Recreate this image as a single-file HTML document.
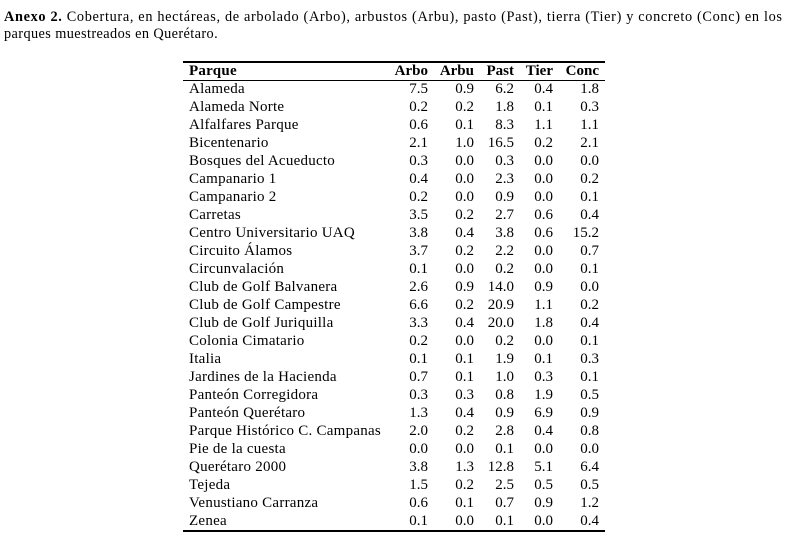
<!DOCTYPE html>
<html><head><meta charset="utf-8"><style>
body{margin:0;width:786px;height:540px;background:#fff;font-family:"Liberation Serif",serif;color:#000;position:relative;overflow:hidden}
.t{position:absolute;left:4px;font-size:14.3px;line-height:17px;white-space:nowrap}
.r{position:absolute;font-size:15px;line-height:18px;white-space:nowrap}
.n{text-align:right;width:40px}
.hr{position:absolute;left:183px;width:422px;background:#000}
b{font-weight:bold}
</style></head><body>
<div class="t" style="top:9px;letter-spacing:0.66px"><b>Anexo 2.</b> Cobertura, en hectáreas, de arbolado (Arbo), arbustos (Arbu), pasto (Past), tierra (Tier) y concreto (Conc) en los</div>
<div class="t" style="top:26px;letter-spacing:0.4px">parques muestreados en Querétaro.</div>
<div class="hr" style="top:61px;height:1.5px"></div>
<div class="hr" style="top:80px;height:1px"></div>
<div class="hr" style="top:530px;height:1.5px"></div>
<div id="tb"></div>
<script>
var rows=[["Alameda","7.5","0.9","6.2","0.4","1.8"],["Alameda Norte","0.2","0.2","1.8","0.1","0.3"],["Alfalfares Parque","0.6","0.1","8.3","1.1","1.1"],["Bicentenario","2.1","1.0","16.5","0.2","2.1"],["Bosques del Acueducto","0.3","0.0","0.3","0.0","0.0"],["Campanario 1","0.4","0.0","2.3","0.0","0.2"],["Campanario 2","0.2","0.0","0.9","0.0","0.1"],["Carretas","3.5","0.2","2.7","0.6","0.4"],["Centro Universitario UAQ","3.8","0.4","3.8","0.6","15.2"],["Circuito Álamos","3.7","0.2","2.2","0.0","0.7"],["Circunvalación","0.1","0.0","0.2","0.0","0.1"],["Club de Golf Balvanera","2.6","0.9","14.0","0.9","0.0"],["Club de Golf Campestre","6.6","0.2","20.9","1.1","0.2"],["Club de Golf Juriquilla","3.3","0.4","20.0","1.8","0.4"],["Colonia Cimatario","0.2","0.0","0.2","0.0","0.1"],["Italia","0.1","0.1","1.9","0.1","0.3"],["Jardines de la Hacienda","0.7","0.1","1.0","0.3","0.1"],["Panteón Corregidora","0.3","0.3","0.8","1.9","0.5"],["Panteón Querétaro","1.3","0.4","0.9","6.9","0.9"],["Parque Histórico C. Campanas","2.0","0.2","2.8","0.4","0.8"],["Pie de la cuesta","0.0","0.0","0.1","0.0","0.0"],["Querétaro 2000","3.8","1.3","12.8","5.1","6.4"],["Tejeda","1.5","0.2","2.5","0.5","0.5"],["Venustiano Carranza","0.6","0.1","0.7","0.9","1.2"],["Zenea","0.1","0.0","0.1","0.0","0.4"]];
var rx=[428,474,514,553,599],h="";
function cell(txt,top,bold){h+='<div class="r" style="left:189px;top:'+top+'px;letter-spacing:0.25px">'+(bold?'<b>'+txt[0]+'</b>':txt[0])+'</div>';
for(var j=0;j<5;j++)h+='<div class="r n" style="left:'+(rx[j]-40)+'px;top:'+top+'px">'+(bold?'<b>'+txt[j+1]+'</b>':txt[j+1])+'</div>';}
cell(["Parque","Arbo","Arbu","Past","Tier","Conc"],62,1);
for(var i=0;i<rows.length;i++)cell(rows[i],80+i*18,0);
document.getElementById("tb").innerHTML=h;
</script>
</body></html>
